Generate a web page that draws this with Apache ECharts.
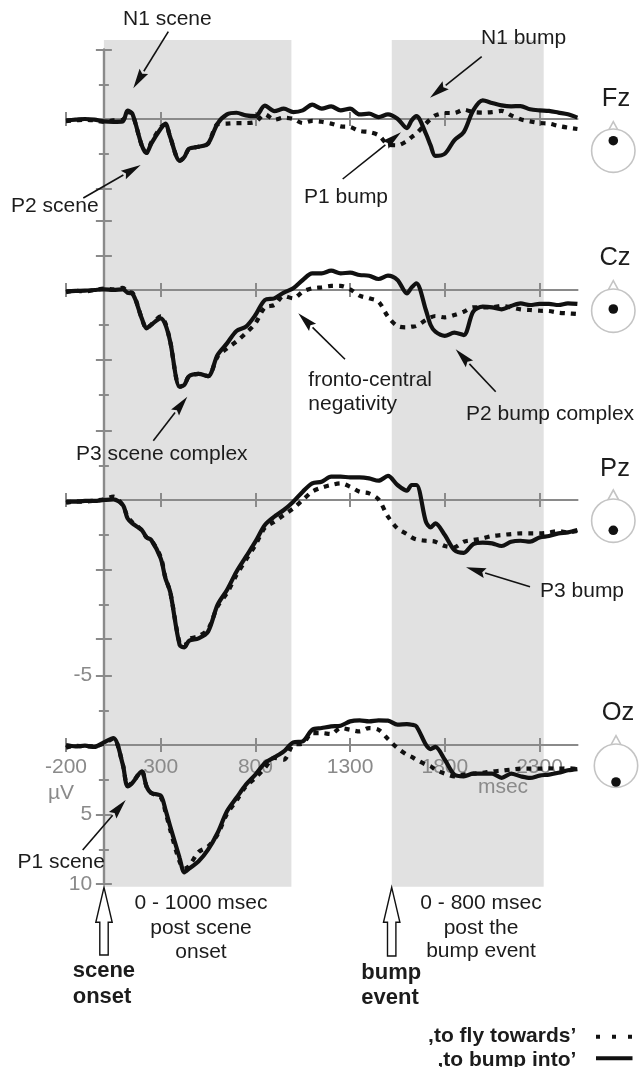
<!DOCTYPE html>
<html><head><meta charset="utf-8">
<style>html,body{margin:0;padding:0;background:#fff}#c{width:639px;height:1067px}</style>
<script src="https://cdn.jsdelivr.net/npm/echarts@6/dist/echarts.min.js"></script>
</head><body><div id="c"></div>
<script>
// time points (ms)
const times = [-200,-150,-100,-50,0,50,100,125,150,200,225,250,300,325,350,400,425,450,500,550,
  600,650,700,750,800,850,900,950,1000,1050,1100,1150,1200,1250,
  1300,1350,1400,1450,1500,1550,1600,1625,1650,1700,1725,1750,1800,1850,1900,1950,2000,2050,2100,2150,2200,2250,2300,2350,2400,2450,2500];
const xTicks = [-200, 300, 800, 1300, 1800, 2300];
const bandScene = [0, 990];
const bandBump = [1520, 2322];
const yLabelTicks = [-5, 5, 10];

// values in microvolts (',to bump into' = solid, ',to fly towards' = dotted)
const fzSolid = [.1,.05,0,.05,.17,.2,.17,-.6,-.4,1.9,2.44,1.77,.7,.33,1.3,3,2.73,2.13,2,1.77,
  .33,-.33,-.45,-.26,-.2,-.96,-.57,-.74,-.5,-.62,-1.03,-.74,-.91,-.62,
  -.74,-.33,-.38,-.14,-.33,-.02,.65,.1,-.2,1.05,1.9,2.65,2.5,1.53,.94,-.62,-1.34,-1.15,-.98,-.91,-.93,-.7,-.62,-.58,-.46,-.34,-.1];
const fzDotted = [.15,.1,.05,.1,.2,.1,.05,-.5,-.35,1.9,2.44,1.7,.6,.4,1.3,3,2.73,2.13,2,1.77,
  .38,.33,.29,.29,.2,-.33,.05,-.1,0,.29,.14,.2,.33,.53,
  .58,.86,.94,1.17,1.82,1.89,1.58,1.3,1.05,.33,0,-.26,-.43,-.43,-.67,-.5,-.46,-.5,-.58,-.26,.02,.17,.29,.33,.5,.62,.72];
const czSolid = [.1,.07,.05,0,-.05,0,-.05,.2,.25,2.04,2.76,2.5,2.04,2.5,3.7,6.95,6.83,6.2,6.04,6.2,
  4.68,3.84,2.95,2.64,1.8,.72,.6,.19,-.12,-.72,-1.2,-1.2,-1.39,-1.2,
  -1.25,-1.08,-1.03,-.79,-1.03,-.72,.24,-.19,-.48,1.44,2.52,3,3.3,3.07,3.24,1.56,1.2,1.25,1.39,1.15,.96,1.08,1,1,1.08,.96,1];
const czDotted = [.15,.05,.1,0,-.1,-.05,-.15,.15,.2,2.04,2.76,2.5,1.9,2.4,3.7,6.95,6.8,6.2,6.04,6.2,
  4.8,4.2,3.7,3.1,2.4,1.25,1.08,.43,.6,.12,-.12,-.19,-.29,-.29,
  -.05,.41,.6,.84,1.92,2.59,2.69,2.64,2.59,2.16,1.97,1.87,1.97,1.8,1.56,1.25,1.25,1.25,1.15,1.25,1.39,1.44,1.49,1.51,1.63,1.68,1.73];
const pzSolid = [.12,.12,.07,.07,0,-.05,.36,1.32,1.68,2.16,2.69,2.88,4.2,5.64,6.6,10.43,10.6,10.12,9.95,9.47,
  7.55,6.47,5.16,4.08,3,1.8,1.2,.72,.12,-.6,-1.2,-1.32,-1.68,-1.68,
  -1.63,-1.63,-1.56,-1.39,-1.73,-1.08,-.67,-1.08,-1.08,1.56,1.97,1.68,2.52,3.6,3.8,3.17,3.07,3.12,3.31,3,2.93,3,2.69,2.59,2.4,2.33,2.16];
const pzDotted = [.2,.1,.12,.05,-.05,-.25,.4,1.2,1.6,2.16,2.69,2.88,4.1,5.6,6.6,10.3,10.5,10,9.8,9.3,
  7.67,6.7,5.4,4.3,3.24,2,1.56,1.08,.6,0,-.6,-.89,-1.08,-1.2,
  -.96,-.6,-.48,-.05,1.2,2.04,2.45,2.69,2.83,2.93,2.95,3,3.31,3.4,3,2.88,2.76,2.59,2.52,2.45,2.4,2.4,2.4,2.35,2.23,2.33,2.23];
const ozSolid = [0,.1,.05,.14,-.19,-.5,1.41,2.97,2.73,1.9,2.97,3.45,3.65,4.65,5.85,8.13,9.16,8.9,8.37,7.53,
  6.33,4.77,3.8,2.85,2.13,1.3,.89,.46,-.19,-.26,-1.1,-1.22,-1.34,-1.39,
  -1.7,-1.77,-1.7,-1.77,-1.75,-1.46,-1.5,-1.46,-1.34,-.02,.29,.14,1.06,2.13,2.25,2.06,2.06,2.06,2.37,2.06,2.25,2.37,2.2,2.13,2,1.82,1.73];
const ozDotted = [.2,.05,.1,.1,-.1,-.45,1.41,2.95,2.7,1.9,2.97,3.45,3.75,4.8,6.1,8.4,8.9,8.7,7.7,7.3,
  6.45,4.95,4,2.97,2.37,1.65,.93,1.05,-.02,-.1,-.86,-.86,-.79,-1.22,
  -1.1,-.98,-1.22,-1.1,-.43,.22,.7,.86,1.06,1.41,1.53,1.77,2.06,2.25,2.13,2.06,2,1.9,1.85,1.77,1.7,1.7,1.7,1.68,1.7,1.68,1.73];

const FONT = '"Liberation Sans", Arial, sans-serif';
const AXC = '#8a8a8a', INK = '#1c1c1c';
const panels = [
  {top: 49.5,  yMax: 7.302,  major: [-5, 5],       minor: [-2.5, 2.5],         solid: fzSolid, dotted: fzDotted},
  {top: 220.5, yMax: 10.108, major: [-5, -2.5, 5], minor: [2.5, 7.5],          solid: czSolid, dotted: czDotted},
  {top: 430.5, yMax: 12.626, major: [-5, 5, 10],   minor: [-2.5, 2.5, 7.5],    solid: pzSolid, dotted: pzDotted},
  {top: 675.5, yMax: 10,     major: [-5, 5, 10],   minor: [-2.5, 2.5, 7.5],    solid: ozSolid, dotted: ozDotted, labels: true}
];
const PXUV = 13.9, LEFT = 66, WIDTH = 511.4, ZERO_X_OFFSET = 38.2;
const grid = [], xAxis = [], yAxis = [], series = [];

// shaded windows, on their own full-height grid
grid.push({left: LEFT, width: WIDTH, top: 40, height: 846.7});
xAxis.push({type: 'value', gridIndex: 0, min: -200, max: 2500, show: false});
yAxis.push({type: 'value', gridIndex: 0, min: 0, max: 1, show: false});
series.push({type: 'line', xAxisIndex: 0, yAxisIndex: 0, data: [[0, 0]], symbol: 'none', lineStyle: {width: 0}, z: 0, silent: true,
  markArea: {silent: true, itemStyle: {color: '#e1e1e1'}, data: [
    [{xAxis: bandScene[0]}, {xAxis: bandScene[1]}],
    [{xAxis: bandBump[0]}, {xAxis: bandBump[1]}]
  ]}});

panels.forEach((p, i) => {
  const g = i + 1;
  const h = (p.yMax + 5) * PXUV;
  grid.push({left: LEFT, width: WIDTH, top: p.top, height: h});
  const xBase = {type: 'value', gridIndex: g, min: -200, max: 2500, splitLine: {show: false}, z: 1,
    axisLine: {show: true, onZero: true, lineStyle: {color: AXC, width: 2}},
    axisLabel: {show: false}};
  const xi = xAxis.length;
  ['bottom', 'top'].forEach(pos => xAxis.push(Object.assign({}, xBase, {position: pos,
    axisTick: {show: true, length: 7, customValues: xTicks, lineStyle: {color: AXC, width: 2}}})));
  // two silent x axes: each y axis needs its own x axis to sit on zero
  ['bottom', 'top'].forEach(pos => xAxis.push({type: 'value', gridIndex: g, min: -200, max: 2500, position: pos,
    splitLine: {show: false}, axisLine: {show: false, onZero: false}, axisTick: {show: false}, axisLabel: {show: false}}));
  const yi = yAxis.length;
  const yAx = (pos, vals, len, lineOpacity) => ({type: 'value', gridIndex: g, min: -5, max: p.yMax, inverse: true, position: pos, z: 1,
    splitLine: {show: false}, axisLabel: {show: false},
    axisLine: {show: true, onZero: true, lineStyle: {color: AXC, width: 2.4, opacity: lineOpacity}},
    axisTick: {show: true, length: len, customValues: vals, lineStyle: {color: AXC, width: 2, opacity: 1}}});
  yAxis.push(yAx('left', p.major, 8, 1), yAx('right', p.major, 8, 0),
             yAx('left', p.minor, 5, 0), yAx('right', p.minor, 5, 0));
  series.push({type: 'line', name: 'to fly towards', xAxisIndex: xi, yAxisIndex: yi, z: 3, symbol: 'none', smooth: 0.3, silent: true,
    data: times.map((t, k) => [t, p.dotted[k]]),
    lineStyle: {color: '#111', width: 4.2, type: [5, 6]}});
  series.push({type: 'line', name: 'to bump into', xAxisIndex: xi, yAxisIndex: yi, z: 4, symbol: 'none', smooth: 0.3, silent: true,
    data: times.map((t, k) => [t, p.solid[k]]),
    lineStyle: {color: '#111', width: 4.2}});
  if (p.labels) {
    xAxis.push({type: 'value', gridIndex: g, min: -200, max: 2500, position: 'bottom', offset: -(p.yMax * PXUV), z: 1,
      splitLine: {show: false}, axisLine: {show: false, onZero: false}, axisTick: {show: false},
      axisLabel: {show: true, customValues: xTicks, margin: 12, color: AXC, fontSize: 21, fontFamily: FONT, formatter: v => String(v)}});
    yAxis.push({type: 'value', gridIndex: g, min: -5, max: p.yMax, inverse: true, position: 'left', offset: -ZERO_X_OFFSET, z: 1,
      splitLine: {show: false}, axisLine: {show: false, onZero: false}, axisTick: {show: false},
      axisLabel: {show: true, customValues: yLabelTicks, margin: 12, color: AXC, fontSize: 21, fontFamily: FONT, formatter: v => String(v)}});
  }
});

// annotations
const gfx = [];
function txt(s, x, y, o) {
  o = o || {};
  gfx.push({type: 'text', x, y, z: 20, silent: true, style: {text: s,
    font: (o.bold ? 'bold ' : '') + (o.size || 21) + 'px ' + FONT,
    fill: o.color || INK, textAlign: o.align || 'left', textVerticalAlign: 'middle'}});
}
function arrow(x1, y1, x2, y2) {
  const L = Math.hypot(x2 - x1, y2 - y1), ux = (x2 - x1) / L, uy = (y2 - y1) / L, h = 20, w = 5;
  const bx = x2 - ux * h, by = y2 - uy * h;
  gfx.push({type: 'line', z: 20, silent: true, shape: {x1, y1, x2: bx, y2: by}, style: {stroke: '#111', lineWidth: 1.6}});
  gfx.push({type: 'polygon', z: 20, silent: true, shape: {points: [[x2, y2], [bx - uy * w, by + ux * w], [bx + ux * 3 , by + uy * 3], [bx + uy * w, by - ux * w]]}, style: {fill: '#111'}});
}
function hollow(x, tip, bottom) {
  gfx.push({type: 'polygon', z: 20, silent: true, shape: {points: [[x, tip], [x + 8.2, tip + 35], [x + 4.2, tip + 35], [x + 4.2, bottom], [x - 4.2, bottom], [x - 4.2, tip + 35], [x - 8.2, tip + 35]]},
    style: {fill: '#fff', stroke: '#111', lineWidth: 1.4}});
}
function head(cx, cy, noseTop, dotY, label, lx, ly) {
  gfx.push({type: 'polyline', z: 19, silent: true, shape: {points: [[cx - 6, noseTop + 11], [cx, noseTop], [cx + 6, noseTop + 11]]}, style: {stroke: '#c4c4c4', fill: null, lineWidth: 1.6}});
  gfx.push({type: 'circle', z: 19, silent: true, shape: {cx, cy, r: 21.7}, style: {stroke: '#c4c4c4', fill: '#fff', lineWidth: 1.6}});
  gfx.push({type: 'circle', z: 20, silent: true, shape: {cx, cy: dotY, r: 4.8}, style: {fill: '#111'}});
  txt(label, lx, ly, {size: 25.5, align: 'center'});
}

txt('N1 scene', 123, 19); arrow(168.3, 31.7, 133.3, 88.3);
txt('P2 scene', 11, 206.7); arrow(83.3, 198, 140.7, 165);
txt('P1 bump', 304, 197); arrow(342.7, 179, 401, 132.3);
txt('N1 bump', 481, 38); arrow(481.7, 56.7, 430, 97.7);
txt('fronto-central', 308.3, 380); txt('negativity', 308.3, 404); arrow(345, 359.3, 298.3, 313.3);
txt('P2 bump complex', 466, 414); arrow(495.7, 391.7, 455.7, 349.3);
txt('P3 scene complex', 76, 454); arrow(153.3, 440.7, 187.3, 396.7);
txt('P3 bump', 540, 591); arrow(530, 586.7, 466, 567.3);
txt('P1 scene', 17.4, 862.7); arrow(82.7, 850, 125.7, 800);
txt('µV', 61, 793, {color: AXC, align: 'center'});
txt('msec', 503, 787, {color: AXC, align: 'center'});

head(613.3, 150.7, 121.7, 140.7, 'Fz', 616, 99.3);
head(613.3, 310.7, 280.7, 309, 'Cz', 615, 258);
head(613.3, 520.7, 490, 530.3, 'Pz', 615, 469.3);
head(616, 765.7, 735.7, 782, 'Oz', 618, 713.3);

hollow(104, 887.3, 955);
hollow(391.7, 887.3, 956);
txt('0 - 1000 msec', 201, 903.3, {align: 'center'});
txt('post scene', 201, 928, {align: 'center'});
txt('onset', 201, 952, {align: 'center'});
txt('0 - 800 msec', 481, 903.3, {align: 'center'});
txt('post the', 481, 928, {align: 'center'});
txt('bump event', 481, 951.7, {align: 'center'});
txt('scene', 72.7, 970.7, {bold: true, size: 22});
txt('onset', 72.7, 996.7, {bold: true, size: 22});
txt('bump', 361.3, 973.3, {bold: true, size: 22});
txt('event', 361.3, 998.3, {bold: true, size: 22});
txt(',to fly towards\u2019', 576.3, 1036.7, {bold: true, size: 21, align: 'right'});
txt(',to bump into\u2019', 576.3, 1060, {bold: true, size: 21, align: 'right'});
gfx.push({type: 'line', z: 20, silent: true, shape: {x1: 596, y1: 1036.7, x2: 633, y2: 1036.7}, style: {stroke: '#111', lineWidth: 4, lineDash: [4, 12]}});
gfx.push({type: 'line', z: 20, silent: true, shape: {x1: 596, y1: 1058.3, x2: 632.5, y2: 1058.3}, style: {stroke: '#111', lineWidth: 4}});

const chart = echarts.init(document.getElementById('c'), null, {renderer: 'canvas', width: 639, height: 1067});
chart.setOption({animation: false, backgroundColor: '#fff', grid, xAxis, yAxis, series, graphic: {elements: gfx}});
</script></body></html>
